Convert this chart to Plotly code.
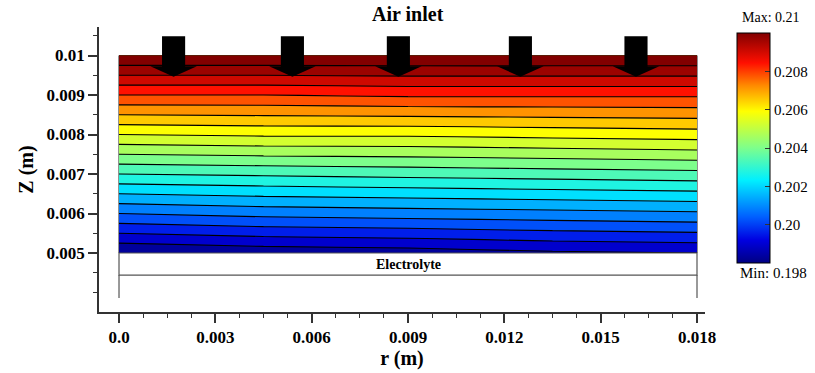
import plotly.graph_objects as go

# Oxygen mole fraction in the cathode gas channel (r: radius, z: height)
r_nodes = [0.0, 0.0045, 0.009, 0.0135, 0.018]
z_nodes = [0.005, 0.006, 0.007, 0.008, 0.009, 0.010]
o2_z005 = [0.1980, 0.1982, 0.1983, 0.1985, 0.1986]
o2_z006 = [0.2004, 0.2006, 0.2007, 0.2008, 0.2009]
o2_z007 = [0.2028, 0.2029, 0.2030, 0.2031, 0.2032]
o2_z008 = [0.2052, 0.2053, 0.2053, 0.2054, 0.2055]
o2_z009 = [0.2076, 0.2076, 0.2077, 0.2077, 0.2077]
o2_z010 = [0.2100, 0.2100, 0.2100, 0.2100, 0.2100]
o2_field = [o2_z005, o2_z006, o2_z007, o2_z008, o2_z009, o2_z010]

o2_min, o2_max, o2_step = 0.198, 0.21, 0.0006

x_tick_vals = [0.0, 0.003, 0.006, 0.009, 0.012, 0.015, 0.018]
x_tick_text = ["0.0", "0.003", "0.006", "0.009", "0.012", "0.015", "0.018"]
y_tick_vals = [0.005, 0.006, 0.007, 0.008, 0.009, 0.01]
y_tick_text = ["0.005", "0.006", "0.007", "0.008", "0.009", "0.01"]
cb_tick_vals = [0.200, 0.202, 0.204, 0.206, 0.208]
cb_tick_text = ["0.20", "0.202", "0.204", "0.206", "0.208"]

# Air inlet arrow positions along r
arrow_r = [0.0017, 0.0054, 0.0087, 0.0125, 0.0161]

# Electrolyte layer below the channel
electrolyte_z = [0.00444, 0.005]
wall_z = [0.00386, 0.00444]

# rainbow colour map (dark blue -> cyan -> yellow -> red -> dark red)
rainbow = [
    [0.00, "rgb(0,0,130)"],
    [0.10, "rgb(0,0,225)"],
    [0.20, "rgb(0,95,255)"],
    [0.36, "rgb(0,240,255)"],
    [0.50, "rgb(125,255,140)"],
    [0.66, "rgb(255,255,0)"],
    [0.77, "rgb(255,140,0)"],
    [0.87, "rgb(255,15,0)"],
    [1.00, "rgb(130,0,0)"],
]

W, H = 815, 373
L, R, T, B = 99, 110, 27, 61
PW, PH = W - L - R, H - T - B
serif = "Liberation Serif, Times New Roman, serif"


def px_x(px):
    return (px - L) / PW


def px_y(py):
    return (H - B - py) / PH


fig = go.Figure()

fig.add_trace(go.Contour(
    x=r_nodes, y=z_nodes, z=o2_field,
    colorscale=rainbow, zmin=o2_min, zmax=o2_max,
    contours=dict(start=o2_min, end=o2_max, size=o2_step, coloring="fill"),
    line=dict(color="black", width=1.1),
    showscale=False, hoverinfo="skip",
))

# continuous colour bar
fig.add_trace(go.Scatter(
    x=[None], y=[None], mode="markers", hoverinfo="skip", showlegend=False,
    marker=dict(
        color=[o2_min], colorscale=rainbow, cmin=o2_min, cmax=o2_max, showscale=True,
        colorbar=dict(
            thickness=33, thicknessmode="pixels", len=230, lenmode="pixels",
            x=px_x(737), xanchor="left", xpad=0,
            y=px_y(148), yanchor="middle", ypad=0,
            outlinecolor="black", outlinewidth=1,
            tickvals=cb_tick_vals, ticktext=cb_tick_text,
            ticks="inside", ticklen=5, tickcolor="#333",
            tickfont=dict(family=serif, size=15, color="black"),
        ),
    ),
))

shapes = []
# arrows
shaft_w, head_w = 0.00072, 0.00145
shaft_top, head_base, tip = 0.01049, 0.00973, 0.00946
for c in arrow_r:
    path = (f"M {c - shaft_w/2},{shaft_top} L {c + shaft_w/2},{shaft_top} "
            f"L {c + shaft_w/2},{head_base} L {c + head_w/2},{head_base} "
            f"L {c},{tip} L {c - head_w/2},{head_base} L {c - shaft_w/2},{head_base} Z")
    shapes.append(dict(type="path", path=path, xref="x", yref="y",
                       fillcolor="black", line=dict(width=0), layer="above"))
# channel outline
shapes.append(dict(type="rect", x0=r_nodes[0], x1=r_nodes[-1], y0=z_nodes[0], y1=z_nodes[-1],
                   xref="x", yref="y", line=dict(color="#222", width=1), layer="below"))
# electrolyte
shapes.append(dict(type="rect", x0=r_nodes[0], x1=r_nodes[-1], y0=electrolyte_z[0], y1=electrolyte_z[1],
                   xref="x", yref="y", line=dict(color="#555", width=1.2), fillcolor="white"))
for xr in (r_nodes[0], r_nodes[-1]):
    shapes.append(dict(type="line", x0=xr, x1=xr, y0=wall_z[0], y1=wall_z[1],
                       xref="x", yref="y", line=dict(color="#555", width=1.2)))

annotations = [
    dict(text="<b>Air inlet</b>", x=0.009, y=px_y(14), xref="x", yref="paper",
         xanchor="center", yanchor="middle",
         showarrow=False, font=dict(family=serif, size=20, color="black")),
    dict(text="<b>Electrolyte</b>", x=0.009, y=sum(electrolyte_z) / 2, xref="x", yref="y",
         xanchor="center", yanchor="middle",
         showarrow=False, font=dict(family=serif, size=14, color="black")),
    dict(text=f"Max: {o2_max:g}", x=px_x(771), y=px_y(18),
         xref="paper", yref="paper", xanchor="center", yanchor="middle", showarrow=False,
         font=dict(family=serif, size=14, color="black")),
    dict(text=f"Min: {o2_min:g}", x=px_x(773), y=px_y(273),
         xref="paper", yref="paper", xanchor="center", yanchor="middle", showarrow=False,
         font=dict(family=serif, size=15, color="black")),
]

fig.update_layout(
    width=W, height=H,
    margin=dict(l=L, r=R, t=T, b=B, autoexpand=False),
    paper_bgcolor="white", plot_bgcolor="white",
    showlegend=False,
    shapes=shapes, annotations=annotations,
    xaxis=dict(
        range=[-0.000623, 0.018249], showgrid=False, zeroline=False,
        showline=True, linecolor="#333", linewidth=1.5,
        tickvals=x_tick_vals, ticktext=[f"<b>{t}</b>" for t in x_tick_text],
        ticks="outside", ticklen=9, tickwidth=1.5, tickcolor="#333",
        minor=dict(dtick=0.00075, tick0=0, ticks="outside", ticklen=4, tickwidth=1.2, tickcolor="#333"),
        tickfont=dict(family=serif, size=17, color="black"),
        title=dict(text="<b>r (m)</b>", font=dict(family=serif, size=20, color="black"), standoff=2),
    ),
    yaxis=dict(
        range=[0.003506, 0.010722], showgrid=False, zeroline=False,
        showline=True, linecolor="#333", linewidth=1.5,
        tickvals=y_tick_vals, ticktext=[f"<b>{t}</b>" for t in y_tick_text],
        ticks="outside", ticklen=9, tickwidth=1.5, tickcolor="#333",
        minor=dict(dtick=0.0005, tick0=0.005, ticks="outside", ticklen=4, tickwidth=1.2, tickcolor="#333"),
        tickfont=dict(family=serif, size=17, color="black"),
        title=dict(text="<b>Z (m)</b>", font=dict(family=serif, size=20, color="black"), standoff=8),
    ),
)

fig.write_html("out.html")
